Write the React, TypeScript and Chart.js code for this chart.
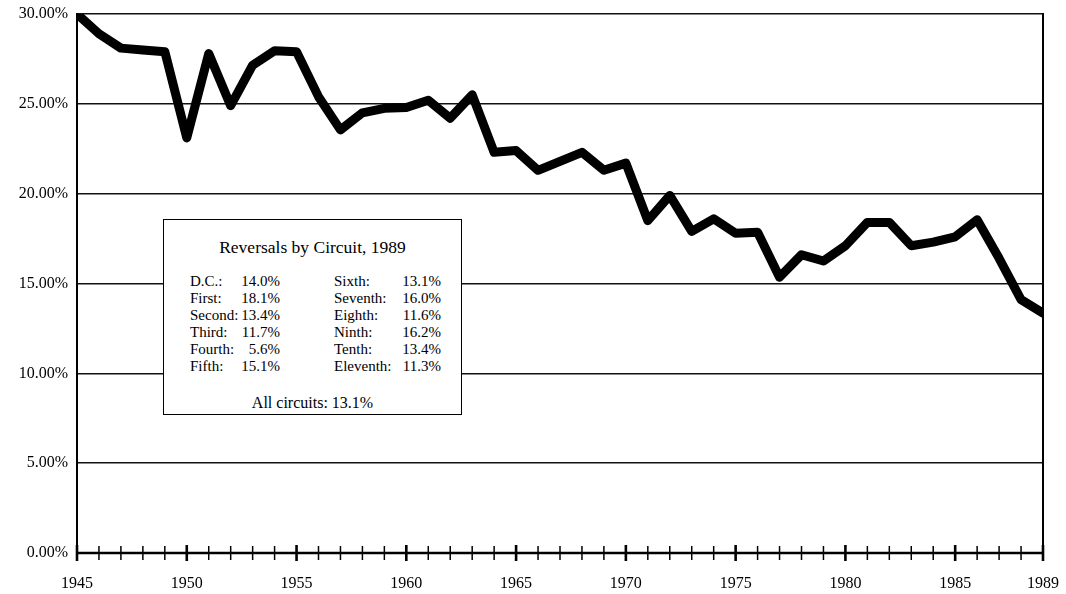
import React, { useEffect, useRef } from 'react';
import { Chart, registerables } from 'chart.js';

Chart.register(...registerables);

// ---- data ----
const years = [
  1945, 1946, 1947, 1948, 1949, 1950, 1951, 1952, 1953, 1954,
  1955, 1956, 1957, 1958, 1959, 1960, 1961, 1962, 1963, 1964,
  1965, 1966, 1967, 1968, 1969, 1970, 1971, 1972, 1973, 1974,
  1975, 1976, 1977, 1978, 1979, 1980, 1981, 1982, 1983, 1984,
  1985, 1986, 1987, 1988, 1989,
];
const reversalRates = [
  30.0, 28.9, 28.1, 28.0, 27.9, 23.1, 27.8, 24.9, 27.15, 27.95,
  27.9, 25.4, 23.55, 24.5, 24.75, 24.8, 25.2, 24.2, 25.5, 22.3,
  22.4, 21.3, 21.8, 22.3, 21.3, 21.7, 18.5, 19.9, 17.9, 18.6,
  17.8, 17.85, 15.35, 16.6, 16.25, 17.1, 18.4, 18.4, 17.1, 17.3,
  17.6, 18.55, 16.4, 14.1, 13.35,
];
const yTickValues = [0, 5, 10, 15, 20, 25, 30];
const xLabelYears = [1945, 1950, 1955, 1960, 1965, 1970, 1975, 1980, 1985, 1989];

const legendTitle = 'Reversals by Circuit, 1989';
const circuitsLeft = ['D.C.:', 'First:', 'Second:', 'Third:', 'Fourth:', 'Fifth:'];
const ratesLeft = ['14.0%', '18.1%', '13.4%', '11.7%', '5.6%', '15.1%'];
const circuitsRight = ['Sixth:', 'Seventh:', 'Eighth:', 'Ninth:', 'Tenth:', 'Eleventh:'];
const ratesRight = ['13.1%', '16.0%', '11.6%', '16.2%', '13.4%', '11.3%'];
const allCircuitsText = 'All circuits: 13.1%';

const FONT = "'Liberation Serif', 'Times New Roman', serif";

const framePlugin = {
  id: 'frame',
  beforeDatasetsDraw(chart: any) {
    const { ctx, chartArea: a, scales } = chart;
    const x = scales.x;
    ctx.save();
    ctx.strokeStyle = '#000';
    ctx.lineCap = 'butt';
    ctx.lineWidth = 2;
    ctx.beginPath();
    ctx.moveTo(a.left, a.top - 1);
    ctx.lineTo(a.left, a.bottom + 8);
    ctx.moveTo(a.right, a.top - 1);
    ctx.lineTo(a.right, a.bottom + 8);
    ctx.stroke();
    ctx.lineWidth = 2.5;
    ctx.beginPath();
    ctx.moveTo(a.left, a.bottom);
    ctx.lineTo(a.right, a.bottom);
    ctx.stroke();
    x.ticks.forEach((t: any) => {
      const v = t.value;
      const px = x.getPixelForValue(v);
      const major = xLabelYears.includes(v);
      ctx.lineWidth = major ? 2.6 : 1.5;
      const len = major ? 8 : 7;
      ctx.beginPath();
      ctx.moveTo(px, a.bottom - len);
      ctx.lineTo(px, a.bottom + len);
      ctx.stroke();
    });
    ctx.restore();
  },
};

export default function App() {
  const canvasRef = useRef<HTMLCanvasElement | null>(null);

  useEffect(() => {
    const canvas = canvasRef.current;
    if (!canvas) return;
    const chart = new Chart(canvas, {
      type: 'line',
      data: {
        datasets: [
          {
            data: years.map((yr, i) => ({ x: yr, y: reversalRates[i] })),
            borderColor: '#000',
            borderWidth: 9,
            borderJoinStyle: 'round',
            borderCapStyle: 'round',
            pointRadius: 0,
            tension: 0,
            fill: false,
          },
        ],
      },
      options: {
        responsive: false,
        animation: false,
        layout: { padding: { top: 14, right: 23, left: 0, bottom: 0 } },
        plugins: {
          legend: { display: false },
          tooltip: { enabled: false },
          title: { display: false },
        },
        scales: {
          x: {
            type: 'linear',
            min: 1945,
            max: 1989,
            afterFit: (s: any) => {
              s.height = 41;
              s.paddingLeft = 0;
              s.paddingRight = 0;
              s.paddingTop = 0;
              s.paddingBottom = 0;
            },
            grid: { display: false, drawTicks: false },
            border: { display: false },
            ticks: {
              stepSize: 1,
              autoSkip: false,
              maxRotation: 0,
              padding: 21,
              color: '#000',
              font: { family: FONT, size: 16 },
              callback: (v: any) => (xLabelYears.includes(v) ? String(v) : ''),
            },
          },
          y: {
            min: 0,
            max: 30,
            afterFit: (s: any) => {
              s.width = 77;
              s.paddingLeft = 0;
              s.paddingRight = 0;
              s.paddingTop = 0;
              s.paddingBottom = 0;
            },
            afterBuildTicks: (s: any) => {
              s.ticks = yTickValues.map((v) => ({ value: v }));
            },
            grid: { color: '#111', lineWidth: 1.5, drawTicks: false },
            border: { display: false },
            ticks: {
              padding: 9,
              color: '#000',
              font: { family: FONT, size: 16 },
              callback: (v: any) => Number(v).toFixed(2) + '%',
            },
          },
        },
      },
      plugins: [framePlugin],
    } as any);
    return () => chart.destroy();
  }, []);

  const rowTop = (i: number) => 280 - 219 + i * 17;
  const textStyle: React.CSSProperties = {
    position: 'absolute',
    fontFamily: FONT,
    fontSize: 15,
    lineHeight: '17px',
    color: '#000',
    whiteSpace: 'nowrap',
    transform: 'translateY(-50%)',
  };

  return (
    <div style={{ position: 'fixed', left: 0, top: 0, width: 1066, height: 594, background: '#fff' }}>
      <canvas ref={canvasRef} width={1066} height={594} style={{ display: 'block' }} />
      <div
        style={{
          position: 'absolute',
          left: 163,
          top: 219,
          width: 299,
          height: 196,
          boxSizing: 'border-box',
          border: '1.5px solid #000',
          background: '#fff',
        }}
      >
        <div style={{ ...textStyle, left: 0, width: '100%', textAlign: 'center', top: 246 - 219, fontSize: 17.5 }}>
          {legendTitle}
        </div>
        {circuitsLeft.map((c, i) => (
          <React.Fragment key={'l' + i}>
            <div style={{ ...textStyle, left: 189 - 163, top: rowTop(i) }}>{c}</div>
            <div style={{ ...textStyle, right: 462 - 281, top: rowTop(i) }}>{ratesLeft[i]}</div>
          </React.Fragment>
        ))}
        {circuitsRight.map((c, i) => (
          <React.Fragment key={'r' + i}>
            <div style={{ ...textStyle, left: 333 - 163, top: rowTop(i) }}>{c}</div>
            <div style={{ ...textStyle, right: 462 - 442, top: rowTop(i) }}>{ratesRight[i]}</div>
          </React.Fragment>
        ))}
        <div style={{ ...textStyle, left: 0, width: '100%', textAlign: 'center', top: 401 - 219, fontSize: 16 }}>
          {allCircuitsText}
        </div>
      </div>
    </div>
  );
}
